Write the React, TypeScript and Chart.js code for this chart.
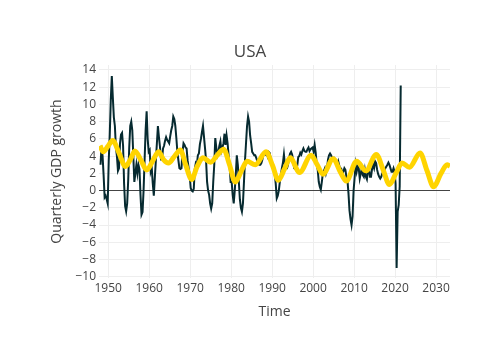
import React, { useEffect, useRef } from "react";
import { Chart, registerables } from "chart.js";

Chart.register(...registerables);

// Quarterly GDP growth (%), first quarter of 1948 onwards
const gdpFirstYear = 1948;
const gdp1948to1949 = [3.0, 5.2, 4.0, 1.8, -0.8, -0.6, -1.0, -1.5];
const gdp1950s = [
  3.5, 6.5, 10.5, 13.3, 10.8, 8.5, 7.5, 5.0, 4.0, 2.3, 2.6, 5.5, 6.5, 6.7, 5.2, 0.8,
  -1.8, -2.4, -1.5, 1.2, 5.0, 7.5, 8.0, 7.0, 4.0, 1.0, 2.0, 3.0, 2.0, 3.0, 2.5, -0.5,
  -2.8, -2.5, 0.0, 3.5, 7.0, 9.2, 6.0, 4.5,
];
const gdp1960s = [
  4.7, 2.2, 2.6, 0.8, -0.6, 1.5, 3.5, 5.5, 7.5, 6.2, 5.1, 3.6, 3.6, 4.9, 5.2, 5.8,
  6.2, 5.9, 5.7, 5.5, 6.3, 7.0, 7.5, 8.6, 8.3, 7.5, 6.1, 4.5, 3.5, 2.6, 2.5, 2.6,
  4.5, 5.5, 5.3, 5.0, 4.9, 3.5, 2.6, 1.8,
];
const gdp1970s = [
  0.3, 0.0, -0.1, 0.2, 2.5, 3.2, 3.0, 4.1, 4.3, 5.4, 6.0, 6.8, 7.5, 6.2, 4.9, 3.5,
  1.0, 0.0, -0.5, -1.5, -2.1, -1.5, 1.0, 3.0, 6.1, 5.0, 4.1, 4.5, 5.2, 5.7, 4.6, 5.0,
  5.5, 6.6, 5.3, 6.4, 5.5, 4.1, 2.8, 1.0,
];
const gdp1980s = [
  1.0, -0.5, -1.5, 0.0, 1.8, 4.1, 3.0, 1.0, -1.0, -2.0, -2.45, -1.5, 1.0, 3.5, 5.5, 7.5,
  8.6, 8.0, 6.4, 5.5, 4.5, 4.3, 4.1, 4.1, 3.8, 3.4, 3.1, 3.0, 3.0, 3.2, 3.6, 4.3,
  4.3, 4.2, 4.4, 4.0, 4.5, 4.4, 3.8, 3.2,
];
const gdp1990s = [
  2.8, 2.5, 2.0, 0.8, -0.9, -0.6, 0.0, 1.0, 1.8, 2.6, 3.2, 4.2, 3.0, 2.6, 2.6, 3.0,
  3.8, 4.3, 4.5, 4.2, 3.5, 2.6, 2.5, 2.7, 2.9, 3.9, 4.0, 4.4, 4.2, 4.6, 4.9, 4.6,
  4.5, 4.5, 4.8, 5.0, 4.6, 4.8, 4.9, 5.0,
];
const gdp2000s = [
  4.5, 5.3, 4.4, 3.0, 2.4, 1.0, 0.45, 0.1, 1.0, 2.0, 2.3, 2.6, 2.0, 2.5, 3.6, 4.1,
  4.3, 4.1, 3.8, 3.8, 3.8, 3.5, 3.4, 3.0, 3.4, 2.9, 2.4, 2.5, 2.0, 2.2, 2.6, 2.4,
  1.6, 1.2, -0.3, -2.3, -3.3, -4.0, -3.0, 0.0,
];
const gdp2010s = [
  1.5, 3.0, 2.2, 2.8, 2.6, 1.4, 2.0, 2.6, 1.8, 1.6, 2.4, 1.6, 1.3, 2.2, 2.6, 1.6,
  1.6, 2.5, 3.0, 2.6, 3.4, 3.2, 2.4, 1.9, 1.6, 1.4, 1.6, 2.0, 2.2, 2.4, 2.6, 2.8,
  3.0, 3.25, 3.0, 2.6, 2.2, 2.2, 2.6, 2.2,
];
const gdp2020s = [0.8, -9.0, -2.45, -1.7, 0.5, 12.2];

// Smooth cyclical trend / projection (yellow)
const trendYears = [
  1948.0, 1948.8, 1950.0, 1951.1, 1952.6, 1954.2, 1955.4, 1956.5, 1958.0, 1959.4,
  1960.8, 1962.3, 1963.5, 1964.7, 1966.2, 1967.6, 1968.9, 1970.35, 1971.7, 1973.1,
  1975.0, 1976.6, 1978.15, 1979.6, 1981.0, 1982.5, 1983.9, 1985.9, 1988.5, 1990.1,
  1991.5, 1993.0, 1994.4, 1996.7, 1999.5, 2001.0, 2002.4, 2004.9, 2006.6, 2008.1,
  2010.6, 2012.9, 2015.4, 2017.1, 2018.6, 2020.2, 2021.7, 2023.5, 2026.1, 2027.8,
  2029.4, 2031.2, 2032.7, 2033.4,
];
const trendValues = [
  5.2, 4.5, 5.2, 5.8, 4.4, 2.8, 3.6, 4.6, 3.5, 2.4,
  3.4, 4.5, 3.6, 3.2, 4.0, 4.7, 3.0, 1.3, 2.8, 3.8,
  3.3, 4.1, 4.8, 3.0, 1.0, 2.3, 3.4, 3.0, 4.5, 2.9,
  1.2, 2.5, 3.8, 2.1, 4.1, 3.0, 1.9, 3.7, 2.2, 1.1,
  3.4, 2.3, 4.2, 2.4, 0.7, 2.0, 3.2, 2.7, 4.35, 2.3,
  0.45, 2.0, 3.0, 2.85,
];

const xTickYears = [1950, 1960, 1970, 1980, 1990, 2000, 2010, 2020, 2030];
const yTickValues = [-10, -8, -6, -4, -2, 0, 2, 4, 6, 8, 10, 12, 14];

const labelFont = "'Open Sans', sans-serif";

export default function App() {
  const ref = useRef<HTMLCanvasElement | null>(null);

  useEffect(() => {
    if (!ref.current) return;
    const gdpAll = [
      ...gdp1948to1949,
      ...gdp1950s,
      ...gdp1960s,
      ...gdp1970s,
      ...gdp1980s,
      ...gdp1990s,
      ...gdp2000s,
      ...gdp2010s,
      ...gdp2020s,
    ];
    const gdpPoints = gdpAll.map((v, i) => ({ x: gdpFirstYear + i / 4 + 0.125, y: v }));
    const trendPoints = trendYears.map((t, i) => ({ x: t, y: trendValues[i] }));

    const chart = new Chart(ref.current, {
      type: "line",
      data: {
        datasets: [
          {
            label: "Forecast",
            data: trendPoints,
            borderColor: "#FFD400",
            borderWidth: 5,
            pointRadius: 0,
            cubicInterpolationMode: "monotone",
            order: 0,
          },
          {
            label: "GDP growth",
            data: gdpPoints,
            borderColor: "#062a30",
            borderWidth: 2,
            pointRadius: 0,
            tension: 0,
            order: 1,
          },
        ],
      },
      options: {
        animation: false,
        responsive: false,
        layout: { padding: 0 },
        plugins: {
          legend: { display: false },
          tooltip: { enabled: false },
          title: {
            display: true,
            text: "USA",
            color: "#444",
            font: { family: labelFont, size: 17, weight: "normal" },
            padding: { top: 42, bottom: 2.6 },
          },
        },
        scales: {
          x: {
            type: "linear",
            min: 1947.75,
            max: 2033.4,
            afterFit: (s: any) => {
              s.height = 82;
            },
            afterBuildTicks: (s: any) => {
              s.ticks = xTickYears.map((v) => ({ value: v }));
            },
            ticks: {
              color: "#444",
              font: { family: labelFont, size: 12 },
              padding: 3,
              maxRotation: 0,
              autoSkip: false,
              callback: (v: any) => String(v),
            },
            grid: { color: "#eeeeee", lineWidth: 1, drawTicks: false },
            border: { display: false },
            title: {
              display: true,
              text: "Time",
              color: "#444",
              font: { family: labelFont, size: 14 },
              padding: { top: 0, bottom: 39.6 },
            },
          },
          y: {
            type: "linear",
            position: "left",
            min: -10.15,
            max: 14.58,
            afterFit: (s: any) => {
              s.width = 99;
            },
            afterBuildTicks: (s: any) => {
              s.ticks = yTickValues.map((v) => ({ value: v }));
            },
            ticks: {
              color: "#444",
              font: { family: labelFont, size: 12 },
              padding: 3,
              autoSkip: false,
              callback: (v: any) => (v < 0 ? "\u2212" + Math.abs(v) : String(v)),
            },
            grid: {
              color: (c: any) => (c.tick && c.tick.value === 0 ? "#444" : "#eeeeee"),
              lineWidth: 1,
              drawTicks: false,
            },
            border: { display: false },
            title: {
              display: true,
              text: "Quarterly GDP growth",
              color: "#444",
              font: { family: labelFont, size: 14 },
              padding: { top: 48.6, bottom: 0 },
            },
          },
          yRight: {
            type: "linear",
            position: "right",
            display: true,
            afterFit: (s: any) => {
              s.width = 50;
            },
            ticks: { display: false },
            grid: { display: false, drawTicks: false },
            border: { display: false },
          },
        },
      },
    });
    return () => chart.destroy();
  }, []);

  return (
    <div style={{ position: "absolute", left: 0, top: 0, width: 500, height: 360, background: "#fff" }}>
      <canvas ref={ref} width={500} height={360} />
    </div>
  );
}
